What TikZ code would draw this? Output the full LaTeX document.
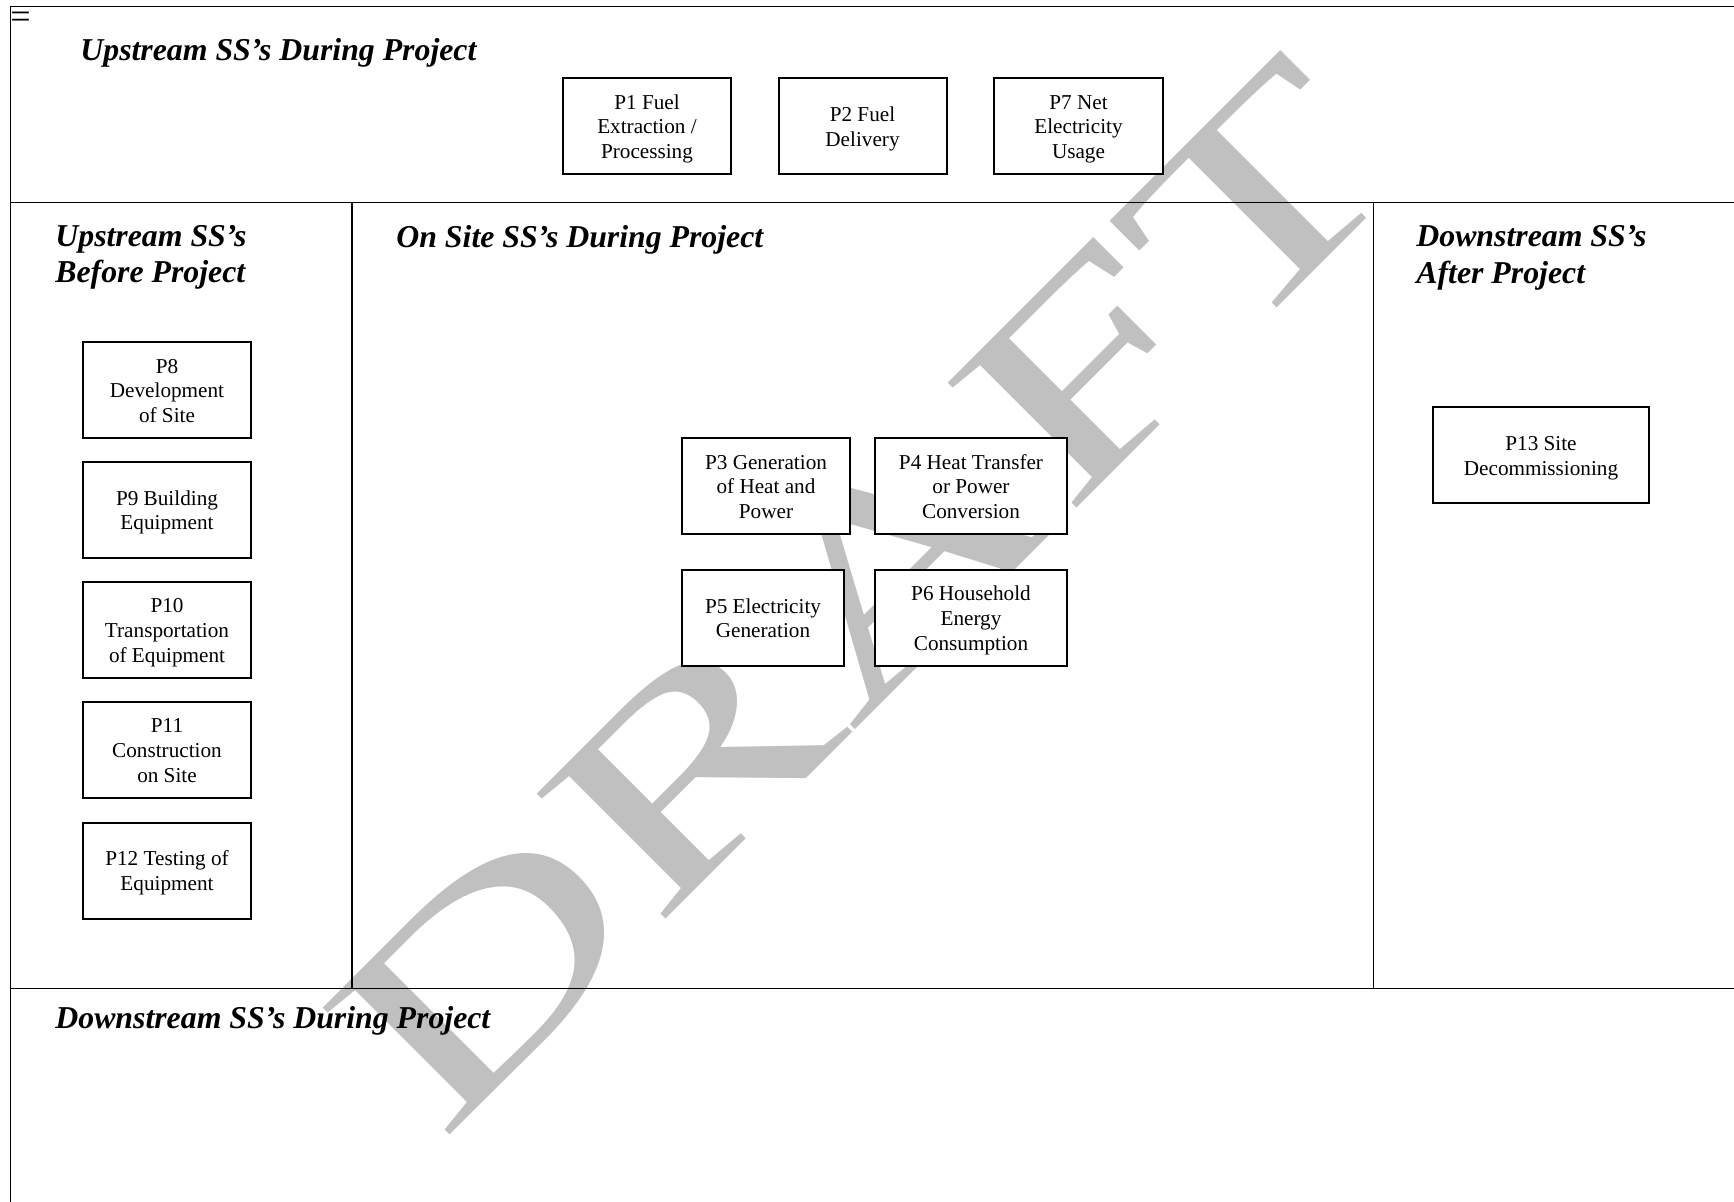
\documentclass[tikz,border=0pt]{standalone}
\usepackage{fontspec}
\setmainfont{Liberation Serif}
\definecolor{wmgray}{RGB}{192,192,192}
\begin{document}
\begin{tikzpicture}[x=0.5pt,y=-0.5pt,
  frameline/.style={line width=0.9pt},
  pbox/.style={draw, fill=white, line width=1pt, align=center, inner sep=0pt,
    minimum height=48pt, font=\fontsize{10.6}{12.3}\selectfont, text depth=2.29pt},
  twoline/.style={text height=22pt},
  threeline/.style={text height=34.3pt},
  sectitle/.style={anchor=base west, align=left, inner sep=0pt,
    font=\fontsize{15.9}{18.25}\selectfont\bfseries\itshape},
  watermark/.style={text=wmgray, anchor=base, inner sep=0pt, rotate=45,
    font=\fontsize{137}{137}\selectfont},
]
\useasboundingbox (0,0) rectangle (1734,1202);
% watermark
\node[watermark] (draft) at (927,658) {\scalebox{1.53}[1]{DRAFT}};
% frame
\draw[frameline] (1734,6.5) -- (10.5,6.5) -- (10.5,1202);
\draw[frameline] (10.5,202.5) -- (1734,202.5);
\draw[frameline] (10.5,988.5) -- (1734,988.5);
\draw[frameline] (352,202.5) -- (352,988.5);
\draw[frameline] (1373.5,202.5) -- (1373.5,988.5);
% small mark
\node[anchor=base west, inner sep=0pt, font=\fontsize{18}{18}\selectfont] (eqmark) at (10,29) {=};
% titles
\node[sectitle] (t1) at (80,61) {Upstream SS’s During Project};
\node[sectitle] (t2) at (55,282.7) {Upstream SS’s\\Before Project};
\node[sectitle] (t3) at (396,247.5) {On Site SS’s During Project};
\node[sectitle] (t4) at (1416,283.5) {Downstream SS’s\\After Project};
\node[sectitle] (t5) at (55,1028) {Downstream SS’s During Project};
% boxes
\node[pbox, threeline, minimum width=84pt] (p1) at (647,126.5) {P1 Fuel\\Extraction /\\Processing};
\node[pbox, twoline, minimum width=84pt] (p2) at (862.5,126.5) {P2 Fuel\\Delivery};
\node[pbox, threeline, minimum width=84.5pt] (p7) at (1078.5,126.5) {P7 Net\\Electricity\\Usage};
\node[pbox, threeline, minimum width=84pt] (p3) at (766,486.5) {P3 Generation\\of Heat and\\Power};
\node[pbox, threeline, minimum width=96pt] (p4) at (971,486.5) {P4 Heat Transfer\\or Power\\Conversion};
\node[pbox, twoline, minimum width=81pt] (p5) at (763,618) {P5 Electricity\\Generation};
\node[pbox, threeline, minimum width=96pt] (p6) at (971,618) {P6 Household\\Energy\\Consumption};
\node[pbox, threeline, minimum width=84pt] (p8) at (167,390.5) {P8\\Development\\of Site};
\node[pbox, twoline, minimum width=84pt] (p9) at (167,510) {P9 Building\\Equipment};
\node[pbox, threeline, minimum width=84pt] (p10) at (167,630) {P10\\Transportation\\of Equipment};
\node[pbox, threeline, minimum width=84pt] (p11) at (167,750) {P11\\Construction\\on Site};
\node[pbox, twoline, minimum width=84pt] (p12) at (167,870.5) {P12 Testing of\\Equipment};
\node[pbox, twoline, minimum width=108pt] (p13) at (1541,455.5) {P13 Site\\Decommissioning};
\end{tikzpicture}
\end{document}
